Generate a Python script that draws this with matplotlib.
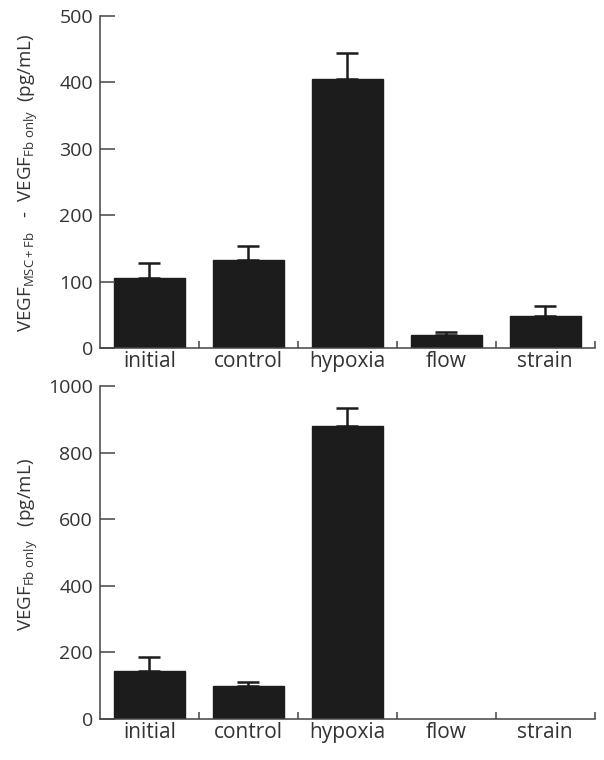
import numpy as np
import matplotlib.pyplot as plt

plt.rcParams['font.family'] = ['Open Sans', 'DejaVu Sans']
plt.rcParams['mathtext.fontset'] = 'custom'
plt.rcParams['mathtext.rm'] = 'Open Sans'
plt.rcParams['mathtext.it'] = 'Open Sans'

categories = ['initial', 'control', 'hypoxia', 'flow', 'strain']

# top panel: VEGF(MSC+Fb) - VEGF(Fb only)
diff_mean = [105, 132, 405, 20, 48]
diff_err = [23, 21, 39, 4, 15]

# bottom panel: VEGF(Fb only), flow/strain not measured
fb_mean = [144, 99, 880, np.nan, np.nan]
fb_err = [42, 12, 54, np.nan, np.nan]

text_col = '#333333'
axis_col = '#444444'
bar_col = '#1c1c1c'


def draw_panel(ax, means, errs, ymax, step):
    x = np.arange(len(categories))
    lower = np.zeros(len(means))
    ax.bar(x, means, width=0.72, color=bar_col, edgecolor=bar_col)
    ax.errorbar(x, means, yerr=[lower, errs], fmt='none', ecolor=bar_col,
                elinewidth=1.8, capsize=8, capthick=1.8)
    ax.set_xlim(-0.5, len(categories) - 0.5)
    ax.set_ylim(0, ymax)
    ax.set_yticks(np.arange(0, ymax + 1, step))
    ax.set_xticks(x)
    ax.set_xticklabels(categories)
    ax.set_xticks(np.arange(0.5, len(categories), 1.0), minor=True)
    for s in ['top', 'right']:
        ax.spines[s].set_visible(False)
    for s in ['left', 'bottom']:
        ax.spines[s].set_color(axis_col)
        ax.spines[s].set_linewidth(1.1)
    ax.tick_params(axis='y', direction='in', length=11, width=1.1,
                   color=axis_col, labelcolor=text_col, labelsize=14, pad=5)
    ax.tick_params(axis='x', which='major', length=0, labelcolor=text_col,
                   labelsize=15, pad=2)
    ax.tick_params(axis='x', which='minor', direction='in', length=5,
                   width=1.1, color=axis_col)


fig = plt.figure(figsize=(6.04, 7.6), dpi=100)
ax1 = fig.add_axes([0.1656, 0.542, 0.819, 0.437])
ax2 = fig.add_axes([0.1656, 0.054, 0.819, 0.438])

draw_panel(ax1, diff_mean, diff_err, 500, 100)
draw_panel(ax2, fb_mean, fb_err, 1000, 200)

label_top = r'VEGF$_{\mathrm{MSC+Fb}}$   -  VEGF$_{\mathrm{Fb\ only}}$  (pg/mL)'
label_bot = r'VEGF$_{\mathrm{Fb\ only}}$   (pg/mL)'
fig.text(32 / 604, 1 - 332 / 760, label_top, rotation=90, rotation_mode='anchor',
         ha='left', va='baseline', fontsize=13.5, color=text_col)
fig.text(32 / 604, 1 - 631 / 760, label_bot, rotation=90, rotation_mode='anchor',
         ha='left', va='baseline', fontsize=13.5, color=text_col)

fig.savefig('out.png', dpi=100)
